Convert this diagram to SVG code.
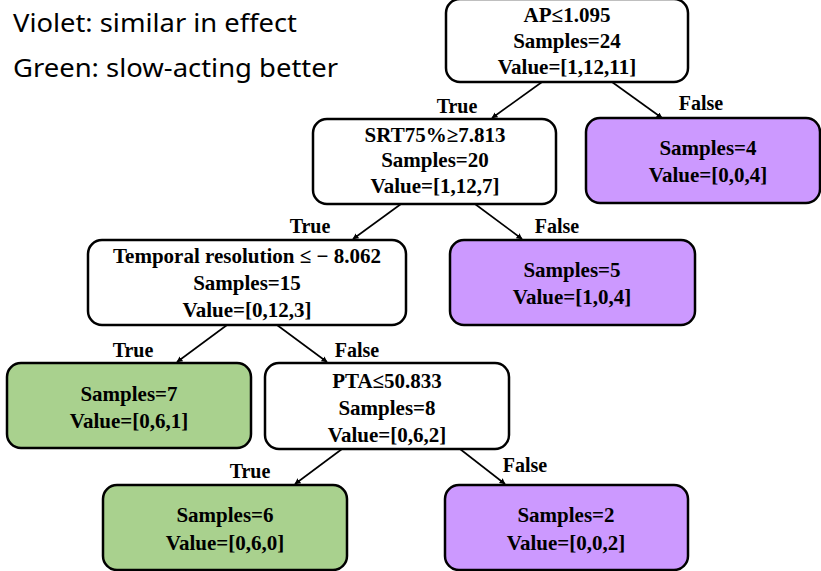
<svg xmlns="http://www.w3.org/2000/svg" width="821" height="571" viewBox="0 0 821 571">
<style>
.box{stroke:#000;stroke-width:2.5}
.w{fill:#fff}
.v{fill:#CC99FF}
.g{fill:#A9D18E}
.t{font-family:"Liberation Serif","Times New Roman",serif;font-weight:bold;font-size:21px;fill:#000;text-anchor:middle}
.lbl{font-family:"Liberation Serif","Times New Roman",serif;font-weight:bold;font-size:20px;fill:#000;text-anchor:middle}
.leg{font-family:"Noto Sans","Open Sans","DejaVu Sans",sans-serif;font-size:26px;fill:#000}
.e{stroke:#000;stroke-width:1.6;fill:none;marker-end:url(#ah)}
</style>
<defs>
<marker id="ah" viewBox="0 0 10 10" refX="9" refY="5" markerWidth="6" markerHeight="6" orient="auto" markerUnits="userSpaceOnUse">
<path d="M0,0 L10,5 L0,10 z" fill="#000"/>
</marker>
</defs>
<rect width="821" height="571" fill="#fff"/>
<g id="legend">
<text class="leg" x="13" y="32" textLength="284" lengthAdjust="spacingAndGlyphs">Violet: similar in effect</text>
<text class="leg" x="13" y="77" textLength="325" lengthAdjust="spacingAndGlyphs">Green: slow-acting better</text>
</g>
<g id="connectors">
<line class="e" x1="542" y1="82" x2="492" y2="118"/>
<line class="e" x1="612" y1="82" x2="662" y2="118"/>
<line class="e" x1="401" y1="204" x2="353" y2="239"/>
<line class="e" x1="475" y1="204" x2="522" y2="239"/>
<line class="e" x1="227" y1="325" x2="177" y2="362"/>
<line class="e" x1="277" y1="325" x2="327" y2="362"/>
<line class="e" x1="342" y1="449" x2="295" y2="484"/>
<line class="e" x1="460" y1="449" x2="505" y2="484"/>
<text class="lbl" x="457" y="113">True</text>
<text class="lbl" x="701" y="110">False</text>
<text class="lbl" x="310" y="233">True</text>
<text class="lbl" x="557" y="233">False</text>
<text class="lbl" x="133" y="357">True</text>
<text class="lbl" x="357" y="357">False</text>
<text class="lbl" x="250" y="478">True</text>
<text class="lbl" x="525" y="472">False</text>
</g>
<g id="root">
<rect class="box w" x="446" y="-1" width="242" height="83" rx="14"/>
<text class="t" x="567" y="22">AP≤1.095</text>
<text class="t" x="567" y="48">Samples=24</text>
<text class="t" x="567" y="74">Value=[1,12,11]</text>
</g>
<g id="srt">
<rect class="box w" x="313" y="119" width="243" height="85" rx="14"/>
<text class="t" x="435" y="142">SRT75%≥7.813</text>
<text class="t" x="435" y="167">Samples=20</text>
<text class="t" x="435" y="193">Value=[1,12,7]</text>
</g>
<g id="leaf4">
<rect class="box v" x="586" y="118" width="234" height="85" rx="14"/>
<text class="t" x="708" y="155">Samples=4</text>
<text class="t" x="708" y="182">Value=[0,0,4]</text>
</g>
<g id="temporal">
<rect class="box w" x="88" y="240" width="318" height="85" rx="14"/>
<text class="t" x="247" y="263">Temporal resolution ≤ − 8.062</text>
<text class="t" x="247" y="290">Samples=15</text>
<text class="t" x="247" y="317">Value=[0,12,3]</text>
</g>
<g id="leaf5">
<rect class="box v" x="450" y="240" width="245" height="85" rx="14"/>
<text class="t" x="572" y="277">Samples=5</text>
<text class="t" x="572" y="304">Value=[1,0,4]</text>
</g>
<g id="leaf7">
<rect class="box g" x="7" y="363" width="244" height="85" rx="14"/>
<text class="t" x="129" y="401">Samples=7</text>
<text class="t" x="129" y="428">Value=[0,6,1]</text>
</g>
<g id="pta">
<rect class="box w" x="265" y="363" width="244" height="86" rx="14"/>
<text class="t" x="387" y="388">PTA≤50.833</text>
<text class="t" x="387" y="415">Samples=8</text>
<text class="t" x="387" y="442">Value=[0,6,2]</text>
</g>
<g id="leaf6">
<rect class="box g" x="103" y="485" width="244" height="85" rx="14"/>
<text class="t" x="225" y="522">Samples=6</text>
<text class="t" x="225" y="550">Value=[0,6,0]</text>
</g>
<g id="leaf2">
<rect class="box v" x="445" y="485" width="243" height="85" rx="14"/>
<text class="t" x="566" y="522">Samples=2</text>
<text class="t" x="566" y="550">Value=[0,0,2]</text>
</g>
</svg>
